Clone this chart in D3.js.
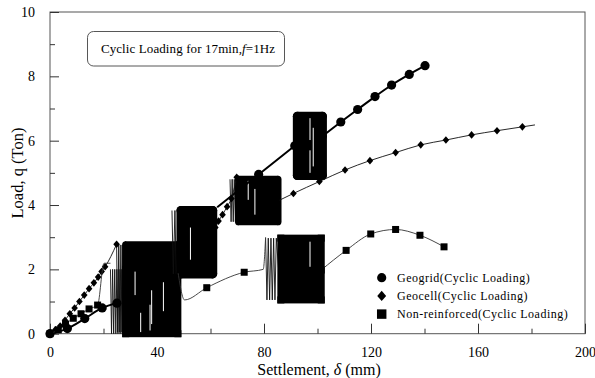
<!DOCTYPE html>
<html>
<head>
<meta charset="utf-8">
<script src="https://cdn.jsdelivr.net/npm/d3@7"></script>
<style>
  body { margin: 0; background: #fff; }
  svg { display: block; }
</style>
</head>
<body>
<svg id="chart" width="595" height="378"></svg>
<script>
// ---- axis ticks ----
const xTicks = [0, 40, 80, 120, 160, 200];
const xMinorTicks = [20, 60, 100, 140, 180];
const yTicks = [0, 2, 4, 6, 8, 10];
const yMinorTicks = [1, 3, 5, 7, 9];

// ---- series (0 geogrid, 1 geocell, 2 non-reinforced) ----
const seriesNames = ["Geogrid(Cyclic Loading)", "Geocell(Cyclic Loading)", "Non-reinforced(Cyclic Loading)"];

// Monotonic loading branches: settlement (mm), load (ton); 1 = recorded reading with a marker
const geogridSettlement = [[0, 6.5, 13, 19.5, 25], [62.5, 78, 91.5], [101.8, 108.7, 115, 121.5, 127.7, 134.3, 140.2]];
const geogridLoad       = [[0, 0.16, 0.47, 0.8, 0.95], [3.93, 4.95, 5.84], [6.14, 6.58, 6.97, 7.37, 7.73, 8.06, 8.33]];
const geogridMarked     = [[1, 1, 1, 1, 1], [0, 1, 1], [1, 1, 1, 1, 1, 1, 1]];

const geocellSettlement = [[0, 2.0, 3.8, 5.6, 7.4, 9.2, 11.0, 12.8, 14.6, 16.4, 18.0, 19.3, 20.6, 24.9],
                           [61.8, 63.0, 64.5, 66.2, 67.8, 69.8],
                           [85.8, 91, 100.7, 110.3, 119.6, 129.2, 138.6, 148, 157.6, 167.1, 176.6, 181.3]];
const geocellLoad       = [[0, 0.12, 0.24, 0.42, 0.62, 0.8, 1.0, 1.2, 1.4, 1.58, 1.76, 1.93, 2.08, 2.78],
                           [3.3, 3.5, 3.7, 3.95, 4.2, 4.86],
                           [4.15, 4.36, 4.73, 5.09, 5.38, 5.63, 5.87, 6.02, 6.18, 6.31, 6.43, 6.49]];
const geocellMarked     = [[1, 1, 1, 1, 1, 1, 1, 1, 1, 1, 1, 1, 1, 1],
                           [1, 1, 1, 1, 1, 1],
                           [0, 1, 1, 1, 1, 1, 1, 1, 1, 1, 1, 0]];

const plainSettlement = [[0, 3.1, 5.8, 8.7, 11.6, 14.6, 17.8, 20.2, 22.6],
                         [47.9, 50.3, 58.6, 72.6, 79.7, 80.6],
                         [101.4, 110.7, 119.9, 129.2, 138.3, 147.3]];
const plainLoad       = [[0, 0.12, 0.3, 0.48, 0.62, 0.77, 0.89, 2.19, 2.19],
                         [1.88, 1.05, 1.43, 1.91, 2.0, 3.0],
                         [1.98, 2.59, 3.1, 3.24, 3.06, 2.7]];
const plainMarked     = [[1, 1, 1, 1, 1, 1, 1, 0, 0],
                         [0, 0, 1, 1, 0, 0],
                         [1, 1, 1, 1, 1, 1]];

// ---- cyclic loading stages (17 min at 1 Hz) ----
const stageSeries = [2, 1, 0, 1, 0, 2];
// settlement of the first, still separable load cycles
const stageLead = [
  [22.6, 23.0, 23.4, 23.8, 24.2, 24.6, 25.0, 25.4, 25.8, 26.2, 26.6, 27.0, 27.4, 27.8],
  [24.9, 25.3, 25.7, 26.1, 26.5, 26.9, 27.3, 27.7, 28.1],
  [45.6, 46.1, 46.7, 47.2],
  [67.3, 67.7, 68.1, 68.5, 68.9, 69.3, 69.7],
  [],
  [80.6, 81.1, 81.6, 82.1, 82.6, 83.1, 83.6, 84.1, 84.6]
];
// settlement range of the dense cycles and the load band (min / max)
const stageStart = [28.3, 28.3, 49.0, 70.5, 92.5, 86.3];
const stageEnd   = [47.8, 47.4, 60.8, 85.2, 101.8, 101.4];
const stageLow   = [0, 0.05, 1.86, 3.48, 4.92, 1.05];
const stageHigh  = [2.0, 2.76, 3.83, 4.8, 6.76, 2.97];
// quieter stretches inside a stage: [settlement, load from, load to]
const stageGaps = [
  [],
  [[31.8, 1.2, 1.93], [33.9, 0.05, 0.65], [37.4, 0.1, 0.9], [38.0, 0.3, 1.35], [42.4, 0.7, 1.6]],
  [[52.5, 2.3, 3.3]],
  [[74.1, 4.16, 4.75], [76.6, 3.7, 4.5]],
  [[97.2, 6.02, 6.7], [97.2, 5.0, 5.7], [98.4, 5.2, 6.4]],
  [[97.2, 2.08, 2.86]]
];

// ---- layout ----
const serif = "'Liberation Serif', 'DejaVu Serif', 'Times New Roman', serif";
const svg = d3.select("#chart").style("font-family", serif);
const x = d3.scaleLinear().domain([0, 200]).range([50, 585]);
const y = d3.scaleLinear().domain([0, 10]).range([333.7, 12]);

// frame
svg.append("rect")
  .attr("x", x(0)).attr("y", y(10))
  .attr("width", x(200) - x(0)).attr("height", y(0) - y(10))
  .attr("fill", "none").attr("stroke", "#555").attr("stroke-width", 1);

// ticks (inward)
const bottom = d3.axisBottom(x).tickValues(xTicks).tickSize(-10).tickPadding(13).tickFormat(d3.format("d"));
const bottomMinor = d3.axisBottom(x).tickValues(xMinorTicks).tickSize(-5).tickFormat("");
const left = d3.axisLeft(y).tickValues(yTicks).tickSize(-9).tickPadding(15).tickFormat(d3.format("d"));
const leftMinor = d3.axisLeft(y).tickValues(yMinorTicks).tickSize(-5).tickFormat("");

function styleAxis(g) {
  g.attr("font-family", null).attr("font-size", null);
  g.select(".domain").remove();
  g.selectAll("line").attr("stroke", "#333");
  g.selectAll("text").style("font-family", serif).style("font-size", "14px").attr("fill", "#000");
}
svg.append("g").attr("transform", `translate(0,${y(0)})`).call(bottom).call(styleAxis);
svg.append("g").attr("transform", `translate(0,${y(0)})`).call(bottomMinor).call(styleAxis);
svg.append("g").attr("transform", `translate(${x(0)},0)`).call(left).call(styleAxis);
svg.append("g").attr("transform", `translate(${x(0)},0)`).call(leftMinor).call(styleAxis);

function label(sel) { return sel.style("font-family", serif).attr("fill", "#000"); }

// axis titles
const xt = label(svg.append("text")).attr("x", 319).attr("y", 375).attr("text-anchor", "middle").style("font-size", "16px");
xt.append("tspan").text("Settlement, ");
xt.append("tspan").attr("font-style", "italic").text("δ");
xt.append("tspan").text(" (mm)");
label(svg.append("text")).attr("transform", "translate(23,173) rotate(-90)")
  .attr("text-anchor", "middle").style("font-size", "16.5px").text("Load, q (Ton)");

// ---- markers ----
const markerR = [4.6, 3.6, 3.5];
function drawMarker(g, kind, cx, cy, scale) {
  const s = scale || 1;
  if (kind === 0) {
    g.append("circle").attr("cx", cx).attr("cy", cy).attr("r", markerR[0] * s).attr("fill", "#000");
  } else if (kind === 1) {
    const w = 3.3 * s, h = 3.8 * s;
    g.append("path").attr("d", `M${cx},${cy - h}L${cx + w},${cy}L${cx},${cy + h}L${cx - w},${cy}Z`).attr("fill", "#000");
  } else {
    const a = markerR[2] * s;
    g.append("rect").attr("x", cx - a).attr("y", cy - a).attr("width", 2 * a).attr("height", 2 * a).attr("fill", "#000");
  }
}

const lineWidth = [2, 0.9, 0.9];
const lineColor = ["#000", "#111", "#333"];

// ---- cyclic stages ----
const stageLayer = svg.append("g");
stageSeries.forEach((s, i) => {
  const lo = stageLow[i], hi = stageHigh[i];
  // individual early cycles
  if (stageLead[i].length) {
    const pts = stageLead[i].map((d, k) => [x(d), y(k % 2 === 0 ? hi : lo)]);
    pts.push([x(stageStart[i]), y(pts.length % 2 === 0 ? hi : lo)]);
    stageLayer.append("path").attr("d", d3.line()(pts))
      .attr("fill", "none").attr("stroke", "#111").attr("stroke-width", 0.9);
  }
  // dense cycles: band outlined by the marker footprint
  stageLayer.append("rect")
    .attr("x", x(stageStart[i])).attr("y", y(hi))
    .attr("width", x(stageEnd[i]) - x(stageStart[i])).attr("height", y(lo) - y(hi))
    .attr("fill", "#000").attr("stroke", "#000")
    .attr("stroke-width", 2 * markerR[s])
    .attr("stroke-linejoin", s === 2 ? "miter" : "round");
  [[stageStart[i], hi], [stageEnd[i], hi], [stageStart[i], lo], [stageEnd[i], lo]]
    .forEach(([a, b]) => drawMarker(stageLayer, s, x(a), y(b)));
});
// quieter stretches drawn after all bands
stageSeries.forEach((s, i) => {
  stageGaps[i].forEach(([sx, a, b]) => {
    stageLayer.append("line")
      .attr("x1", x(sx)).attr("x2", x(sx)).attr("y1", y(a)).attr("y2", y(b))
      .attr("stroke", "#fff").attr("stroke-width", 1);
  });
});

// ---- monotonic branches ----
const branches = [
  [geogridSettlement, geogridLoad, geogridMarked],
  [geocellSettlement, geocellLoad, geocellMarked],
  [plainSettlement, plainLoad, plainMarked]
];
const curveLayer = svg.append("g");
const line = d3.line().x(d => x(d[0])).y(d => y(d[1])).curve(d3.curveMonotoneX);
branches.forEach(([xs, qs, ms], s) => {
  xs.forEach((seg, j) => {
    const pts = seg.map((v, k) => [v, qs[j][k]]);
    curveLayer.append("path").attr("d", line(pts))
      .attr("fill", "none").attr("stroke", lineColor[s]).attr("stroke-width", lineWidth[s]);
    pts.forEach((p, k) => { if (ms[j][k]) drawMarker(curveLayer, s, x(p[0]), y(p[1])); });
  });
});

// ---- annotation box ----
svg.append("rect").attr("x", 87.5).attr("y", 31.5).attr("width", 197).attr("height", 34.5)
  .attr("rx", 6).attr("fill", "#fff").attr("stroke", "#444").attr("stroke-width", 0.9);
const note = label(svg.append("text")).attr("x", 188).attr("y", 52.5).attr("text-anchor", "middle")
  .style("font-size", "13px").attr("letter-spacing", 0.1);
note.append("tspan").text("Cyclic Loading for 17min,");
note.append("tspan").attr("font-style", "italic").text("f");
note.append("tspan").text("=1Hz");

// ---- legend ----
const legend = svg.append("g");
seriesNames.forEach((name, i) => {
  const ly = 277.7 + i * 18.2;
  drawMarker(legend, i, 381.7, ly, i === 0 ? 1 : 1.35);
  label(legend.append("text")).attr("x", 397).attr("y", ly + 4.2)
    .style("font-size", "12px").attr("letter-spacing", 0.5).text(name);
});
</script>
</body>
</html>
